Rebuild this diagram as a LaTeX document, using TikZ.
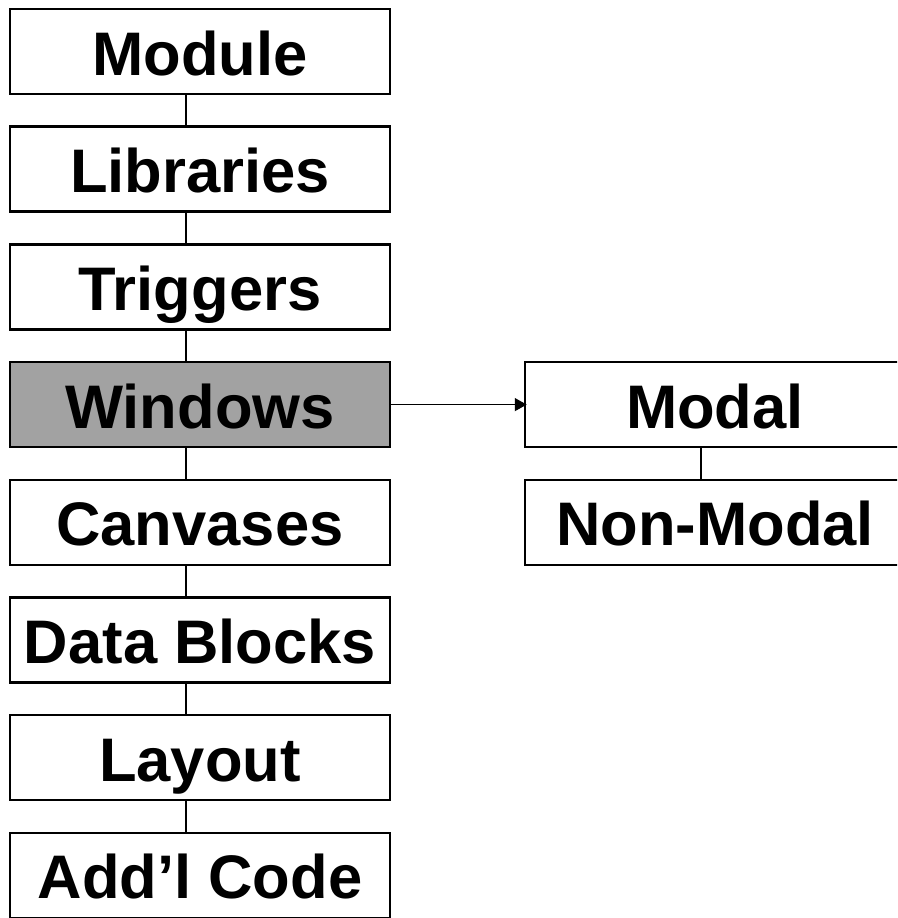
\documentclass[tikz,border=0pt]{standalone}
\usepackage{fontspec}
\setmainfont{Liberation Sans}
\usetikzlibrary{arrows.meta}
\definecolor{wingray}{RGB}{162,162,162}
\begin{document}
\begin{tikzpicture}[x=1pt,y=-1pt,
  box/.style={draw=black,line width=2.5pt,fill=white,minimum width=380pt,minimum height=85pt,
    inner sep=0pt,text height=47pt,text depth=0pt,font=\fontsize{61.5}{61.5}\selectfont\bfseries},
  link/.style={line width=1.5pt},
  arr/.style={line width=1.5pt,shorten >=-3pt,-{Triangle[length=12pt,width=13pt]}}]
\path[use as bounding box] (0,0) rectangle (897,918);
\clip (0,0) rectangle (897,918);
\fill[white] (0,0) rectangle (897,918);
\node[box] (m1) at (200,51.5) {Module};
\node[box] (m2) at (200,169.2) {Libraries};
\node[box] (m3) at (200,286.9) {Triggers};
\node[box,fill=wingray] (m4) at (200,404.6) {Windows};
\node[box] (m5) at (200,522.3) {Canvases};
\node[box] (m6) at (200,640) {Data Blocks};
\node[box] (m7) at (200,757.7) {Layout};
\node[box] (m8) at (200,875.4) {Add’l Code};
\node[box] (r1) at (715,404.6) {Modal};
\node[box] (r2) at (715,522.3) {Non-Modal};
\foreach \a/\b in {m1/m2,m2/m3,m3/m4,m4/m5,m5/m6,m6/m7,m7/m8,r1/r2}
  \draw[link] ([xshift=-14pt]\a.south) -- ([xshift=-14pt]\b.north);
\draw[arr] (m4.east) -- (r1.west);
\end{tikzpicture}
\end{document}
